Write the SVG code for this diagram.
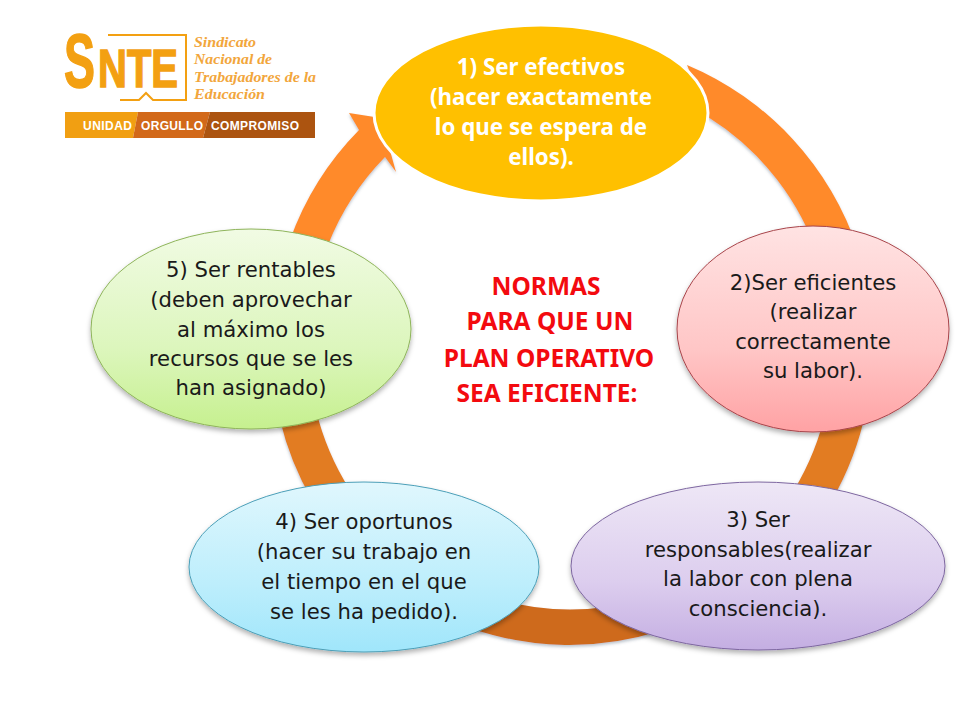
<svg xmlns="http://www.w3.org/2000/svg" width="960" height="720" viewBox="0 0 960 720">
<style>
.t{font-family:"DejaVu Sans","Noto Sans",sans-serif;font-size:21.2px;fill:#1a1a1a;text-anchor:middle}
.w{font-family:"Noto Sans","DejaVu Sans",sans-serif;font-size:22.3px;font-weight:bold;fill:#fff;text-anchor:middle}
.r{font-family:"Noto Sans","DejaVu Sans",sans-serif;font-size:24.5px;font-weight:bold;fill:#f30a0f;text-anchor:middle}
.s{font-family:"Liberation Serif",serif;font-style:italic;font-weight:bold;font-size:14.5px;fill:#f2a63c}
.b{font-family:"Liberation Sans",sans-serif;font-weight:bold;font-size:12px;fill:#fff}
.l{font-family:"Liberation Sans",sans-serif;font-weight:bold;fill:#f3a012;stroke:#f3a012;stroke-width:1.5}
</style>
<defs>
<linearGradient id="ring" gradientUnits="userSpaceOnUse" x1="0" y1="60" x2="0" y2="650">
<stop offset="0" stop-color="#ff8a2b"/><stop offset=".42" stop-color="#ff8a2b"/><stop offset=".62" stop-color="#e27b21"/><stop offset=".75" stop-color="#e27b21"/><stop offset=".93" stop-color="#ce6a1c"/><stop offset="1" stop-color="#ce6a1c"/>
</linearGradient>
<linearGradient id="g2" x1="0" y1="0" x2="0" y2="1"><stop offset="0" stop-color="#ffe3e3"/><stop offset=".6" stop-color="#ffc6c6"/><stop offset="1" stop-color="#ffa2a4"/></linearGradient>
<linearGradient id="g3" x1="0" y1="0" x2="0" y2="1"><stop offset="0" stop-color="#eee7f6"/><stop offset=".6" stop-color="#dccdee"/><stop offset="1" stop-color="#c4aee2"/></linearGradient>
<linearGradient id="g4" x1="0" y1="0" x2="0" y2="1"><stop offset="0" stop-color="#e0f7fd"/><stop offset=".6" stop-color="#bdeefc"/><stop offset="1" stop-color="#a0e6fb"/></linearGradient>
<linearGradient id="g5" x1="0" y1="0" x2="0" y2="1"><stop offset="0" stop-color="#f1fbe4"/><stop offset=".6" stop-color="#dcf6bc"/><stop offset="1" stop-color="#c6f08f"/></linearGradient>
<filter id="sh" x="-10%" y="-10%" width="120%" height="125%"><feDropShadow dx="0" dy="3" stdDeviation="2.5" flood-color="#000" flood-opacity=".3"/></filter>
<filter id="sr" x="-10%" y="-10%" width="120%" height="120%"><feDropShadow dx="0" dy="2" stdDeviation="1.5" flood-color="#5a6a80" flood-opacity=".4"/></filter>
</defs>
<rect width="960" height="720" fill="#fff"/>
<g id="logo">
<text class="l" x="64" y="87" font-size="76" textLength="31" lengthAdjust="spacingAndGlyphs">S</text>
<text class="l" x="98" y="87" font-size="54" textLength="80" lengthAdjust="spacingAndGlyphs">NTE</text>
<path d="M108 35H186V100H153L146 93 139 100H120" fill="none" stroke="#f3a012" stroke-width="2"/>
<text class="s" x="194" y="47" textLength="62" lengthAdjust="spacingAndGlyphs">Sindicato</text>
<text class="s" x="194" y="64" textLength="78" lengthAdjust="spacingAndGlyphs">Nacional de</text>
<text class="s" x="194" y="82" textLength="122" lengthAdjust="spacingAndGlyphs">Trabajadores de la</text>
<text class="s" x="194" y="99" textLength="71" lengthAdjust="spacingAndGlyphs">Educación</text>
<path d="M65 112H138L133 138H65Z" fill="#f19f12"/>
<path d="M138 112H210L203 138H133Z" fill="#d2691a"/>
<path d="M210 112H315V138H203Z" fill="#ac5410"/>
<text class="b" x="83" y="130" textLength="49" lengthAdjust="spacing">UNIDAD</text>
<text class="b" x="141" y="130" textLength="62" lengthAdjust="spacing">ORGULLO</text>
<text class="b" x="211" y="130" textLength="88" lengthAdjust="spacing">COMPROMISO</text>
</g>
<g id="connectors" fill="url(#ring)" filter="url(#sr)">
<path d="M687 65A304 304 0 0 1 858 250L820 262A264 264 0 0 0 708 117Z"/>
<path d="M866 410A301 301 0 0 1 832 500L794 490A264 264 0 0 0 826 410Z"/>
<path d="M660 631A300 300 0 0 1 470 628L500 600A264 264 0 0 0 640 600Z"/>
<path d="M280 420A301 301 0 0 0 312 500L350 490A264 264 0 0 1 316 410Z"/>
<path d="M290 240A301 301 0 0 1 359 130L349 113 381 118 396 172 385 157A264 264 0 0 0 328 245Z"/>
</g>
<g id="n1"><ellipse cx="541" cy="113" rx="167" ry="88" fill="#ffc000" stroke="#fff" stroke-width="3"/>
<text class="w" x="541" y="75">1) Ser efectivos</text><text class="w" x="541" y="105">(hacer exactamente</text><text class="w" x="541" y="135">lo que se espera de</text><text class="w" x="541" y="165">ellos).</text></g>
<g id="n2"><ellipse cx="813" cy="329" rx="136" ry="103" fill="url(#g2)" stroke="#a8444a" filter="url(#sh)"/>
<text class="t" x="813" y="290">2)Ser eficientes</text><text class="t" x="813" y="319">(realizar</text><text class="t" x="813" y="349">correctamente</text><text class="t" x="813" y="378">su labor).</text></g>
<g id="n3"><ellipse cx="758" cy="566" rx="187" ry="84" fill="url(#g3)" stroke="#7d66a0" filter="url(#sh)"/>
<text class="t" x="758" y="527">3) Ser</text><text class="t" x="758" y="557">responsables(realizar</text><text class="t" x="758" y="586">la labor con plena</text><text class="t" x="758" y="616">consciencia).</text></g>
<g id="n4"><ellipse cx="364" cy="567" rx="175" ry="85" fill="url(#g4)" stroke="#4b9fb8" filter="url(#sh)"/>
<text class="t" x="364" y="529">4) Ser oportunos</text><text class="t" x="364" y="559">(hacer su trabajo en</text><text class="t" x="364" y="589">el tiempo en el que</text><text class="t" x="364" y="619">se les ha pedido).</text></g>
<g id="n5"><ellipse cx="251" cy="329" rx="160" ry="100" fill="url(#g5)" stroke="#8eb45a" filter="url(#sh)"/>
<text class="t" x="251" y="277">5) Ser rentables</text><text class="t" x="251" y="307">(deben aprovechar</text><text class="t" x="251" y="337">al máximo los</text><text class="t" x="251" y="366">recursos que se les</text><text class="t" x="251" y="395">han asignado)</text></g>
<g id="title">
<text class="r" x="546" y="295">NORMAS</text><text class="r" x="550" y="330">PARA QUE UN</text><text class="r" x="549" y="367">PLAN OPERATIVO</text><text class="r" x="547" y="402">SEA EFICIENTE:</text>
</g>
</svg>
